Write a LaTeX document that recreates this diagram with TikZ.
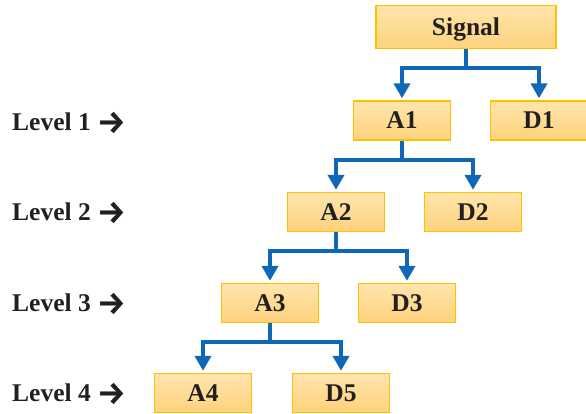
\documentclass[tikz,border=0pt]{standalone}
\usepackage{fontspec}
\setmainfont{Liberation Serif}
\newfontfamily\arrowfont{Fira Sans}
\usetikzlibrary{arrows.meta}
\definecolor{boxtop}{RGB}{255,229,172}
\definecolor{boxbot}{RGB}{253,210,124}
\definecolor{boxline}{RGB}{255,192,0}
\definecolor{connblue}{RGB}{16,103,184}
\definecolor{txt}{RGB}{35,31,32}
\newcommand{\lvlarrow}{\raisebox{-2.5pt}{\arrowfont\fontsize{32}{32}\selectfont\bfseries →}}
\begin{document}
\begin{tikzpicture}[x=1pt,y=-1pt,
  box/.style={draw=boxline,line width=1.3pt,top color=boxtop,bottom color=boxbot,
    minimum width=97pt,minimum height=39pt,inner sep=0pt,text height=17pt,text depth=0pt,
    font=\fontsize{25.5}{30}\selectfont\bfseries,text=txt},
  conn/.style={draw=connblue,line width=3.8pt,
    -{Triangle[width=16pt,length=15pt]},shorten >=2pt},
  lvl/.style={anchor=west,inner sep=0pt,text height=17pt,text depth=0pt,font=\fontsize{25.5}{30}\selectfont\bfseries,text=txt}]
\useasboundingbox (0,0) rectangle (586,414);
\node[box,minimum width=180pt,minimum height=43pt] (S) at (466,27) {Signal};
\node[box] (A1) at (402,120.5) {A1};
\node[box] (D1) at (539,120.5) {D1};
\node[box] (A2) at (336,212) {A2};
\node[box] (D2) at (473,212) {D2};
\node[box] (A3) at (270,303) {A3};
\node[box] (D3) at (407,303) {D3};
\node[box] (A4) at (203,393) {A4};
\node[box] (D5) at (341,393) {D5};
\draw[conn] (S.south) -- ++(0,19) -| (A1.north);
\draw[conn] (S.south) -- ++(0,19) -| (D1.north);
\draw[conn] (A1.south) -- ++(0,19) -| (A2.north);
\draw[conn] (A1.south) -- ++(0,19) -| (D2.north);
\draw[conn] (A2.south) -- ++(0,19) -| (A3.north);
\draw[conn] (A2.south) -- ++(0,19) -| (D3.north);
\draw[conn] (A3.south) -- ++(0,19) -| (A4.north);
\draw[conn] (A3.south) -- ++(0,19) -| (D5.north);
\node[lvl] (L1) at (12,122.5) {Level 1 \lvlarrow};
\node[lvl] (L2) at (12,212) {Level 2 \lvlarrow};
\node[lvl] (L3) at (12,303) {Level 3 \lvlarrow};
\node[lvl] (L4) at (12,393) {Level 4 \lvlarrow};
\end{tikzpicture}
\end{document}
